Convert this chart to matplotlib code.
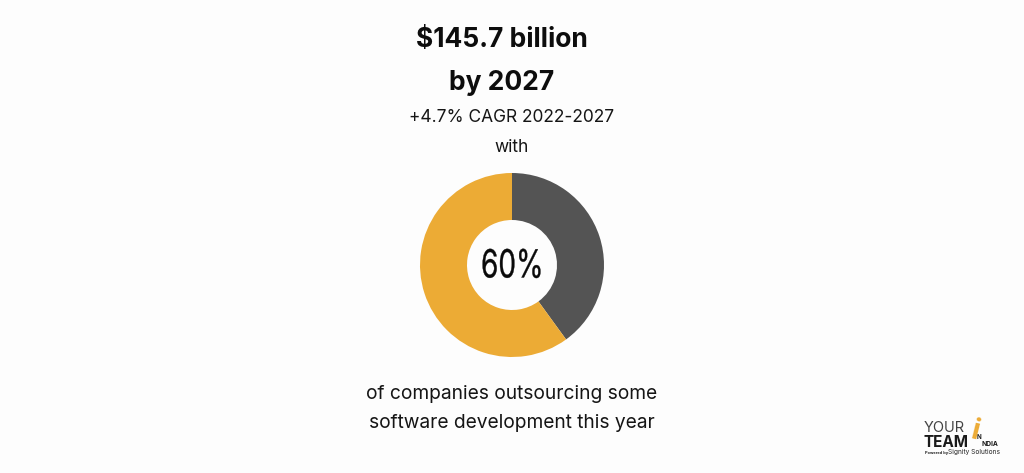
import matplotlib
matplotlib.use('Agg')
import matplotlib.pyplot as plt
from matplotlib.patheffects import AbstractPathEffect
from matplotlib.transforms import Affine2D

W, H = 1024, 473
share = [40, 60]
colors = ['#545454', '#ecab35']

title_lines = ['$145.7 billion', 'by 2027']
sub_lines = ['+4.7% CAGR 2022-2027', 'with']
foot_lines = ['of companies outsourcing some', 'software development this year']
center_label = '60%'

plt.rcParams['font.family'] = ['Inter', 'DejaVu Sans']
plt.rcParams['text.parse_math'] = False

fig = plt.figure(figsize=(W / 100, H / 100), dpi=100, facecolor='#fdfdfd')


# squeeze glyphs sideways, no condensed font installed
class Squeeze(AbstractPathEffect):
    def __init__(self, sx):
        super().__init__()
        self.sx = sx

    def draw_path(self, renderer, gc, tpath, affine, rgbFace=None):
        gc.set_linewidth(0.25)
        renderer.draw_path(gc, tpath, Affine2D().scale(self.sx, 1) + affine, rgbFace)


def put(x, y, s, **kw):
    kw.setdefault('ha', 'center')
    kw.setdefault('va', 'center')
    return fig.text(x / W, 1 - y / H, s, **kw)


# donut, centre (512, 265), radius 92
ax = fig.add_axes([(512 - 100) / W, 1 - (265 + 100) / H, 200 / W, 200 / H])
ax.pie(share, colors=colors, startangle=90, counterclock=False, radius=92,
       wedgeprops=dict(width=47, linewidth=0))
ax.set_xlim(-100, 100)
ax.set_ylim(-100, 100)
ax.set_aspect('equal')
ax.axis('off')

put(502, 40, title_lines[0], fontsize=19, fontweight='bold', color='#0d0d0d')
put(502, 83, title_lines[1], fontsize=19, fontweight='bold', color='#0d0d0d')
put(512, 117, sub_lines[0], fontsize=12.5, color='#151515')
put(512, 147, sub_lines[1], fontsize=12.5, color='#151515')

t = put(481, 267, center_label, fontsize=28, color='#0a0a0a', ha='left')
t.set_path_effects([Squeeze(0.72)])

put(512, 394, foot_lines[0], fontsize=13.8, color='#151515')
put(512, 423, foot_lines[1], fontsize=13.8, color='#151515')

# logo
put(924, 428, 'YOUR', fontsize=10.5, color='#444444', ha='left')
put(924, 442, 'TEAM', fontsize=11, fontweight='bold', color='#1a1a1a', ha='left')
put(977, 437, 'N', fontsize=4.5, fontweight='bold', color='#1a1a1a', ha='left')
put(981, 444, 'NDIA', fontsize=4.8, fontweight='bold', color='#1a1a1a', ha='left')
put(975, 432, 'i', fontsize=21, fontweight='bold', color='#ecab35', rotation=-14)
put(925, 453, 'Powered by', fontsize=2.9, fontweight='bold', color='#222222', ha='left')
put(948, 452, 'Signity Solutions', fontsize=4.7, color='#222222', ha='left')

fig.savefig('out.png', dpi=100, facecolor=fig.get_facecolor())
